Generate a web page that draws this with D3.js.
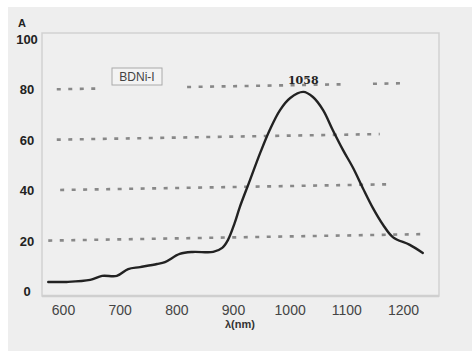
<!DOCTYPE html>
<html><head><meta charset="utf-8">
<script src="https://cdn.jsdelivr.net/npm/d3@7"></script>
<style>
html,body{margin:0;padding:0;background:#fff;}
svg{display:block;}
</style></head>
<body>
<script>
// ---- data ----
const wavelength = [574,607,648,669,695,715,736,766,780,806,829,865,881,891,903,912,930,948,965,983,1001,1024,1041,1059,1076,1094,1112,1129,1147,1165,1182,1212,1235];
const absorbance = [3.6,3.6,4.4,6.0,6.0,8.7,9.5,10.7,11.5,14.7,15.5,15.5,17.1,20.2,27.0,33.3,44.0,54.8,64.0,71.8,76.6,79.0,77.0,71.8,63.9,56.0,48.8,40.9,32.9,26.2,21.4,18.3,15.1];
const xTicks = [600,700,800,900,1000,1100,1200];
const yTicks = [0,20,40,60,80,100];
const gridValues = [20,40,60,80];
const gridSegments = [
  [[574,1242]],
  [[595,1177]],
  [[589,1159]],
  [[589,660],[819,1094],[1147,1198]]
];
const peakLabel = "1058";
const peakWavelength = 1024;
const peakValue = 79.0;
const seriesName = "BDNi-I";
const yTitle = "A";
const xTitle = "λ(nm)";

// ---- layout ----
const W = 475, H = 351;
const svg = d3.select("body").append("svg").attr("width", W).attr("height", H);
svg.append("rect").attr("x",8).attr("y",7).attr("width",464).attr("height",344).attr("fill","#eeeeee");

const x = d3.scaleLinear().domain([600,1200]).range([63,403]);
const y = d3.scaleLinear().domain([0,100]).range([291,39]);

// plot frame
svg.append("rect").attr("x",42).attr("y",33).attr("width",397).attr("height",263)
  .attr("fill","#efefef").attr("stroke","#d2d2d2").attr("stroke-width",1.5);
svg.append("line").attr("x1",42).attr("x2",439).attr("y1",296).attr("y2",296)
  .attr("stroke","#cfcfcf").attr("stroke-width",2.5);

// dotted tilted gridlines
const rise = 2.6;
gridValues.forEach((v,i)=>{
  gridSegments[i].forEach(([a,b])=>{
    const t = w => (w-574)/(1242-574)*rise;
    svg.append("line")
      .attr("x1",x(a)).attr("x2",x(b))
      .attr("y1",y(v+t(a))).attr("y2",y(v+t(b)))
      .attr("stroke","#666").attr("stroke-width",2.6)
      .attr("stroke-dasharray","4,7.5").attr("stroke-opacity",0.75);
  });
});

// legend box
svg.append("rect").attr("x",112).attr("y",68).attr("width",50).attr("height",17)
  .attr("fill","#f3f3f3").attr("stroke","#aaa").attr("stroke-width",1);
svg.append("text").attr("x",137).attr("y",81).attr("text-anchor","middle")
  .attr("font-family","Liberation Sans, Arial, sans-serif").attr("font-size",12)
  .attr("fill","#444").text(seriesName);

// curve
const pts = wavelength.map((w,i)=>[w,absorbance[i]]);
svg.append("path").datum(pts)
  .attr("d", d3.line().x(d=>x(d[0])).y(d=>y(d[1])).curve(d3.curveCatmullRom.alpha(0.5)))
  .attr("fill","none").attr("stroke","#222").attr("stroke-width",2.4)
  .attr("stroke-linejoin","round").attr("stroke-linecap","round");

// peak label
svg.append("text").attr("x",x(peakWavelength)).attr("y",y(peakValue)-8)
  .attr("text-anchor","middle")
  .attr("font-family","DejaVu Serif, Liberation Serif, serif").attr("font-weight","bold")
  .attr("font-size",11).attr("fill","#222").text(peakLabel);

// y tick labels
const yAxis = svg.append("g").attr("transform","translate(27,0)")
  .call(d3.axisLeft(y).tickValues(yTicks).tickSize(0).tickPadding(0));
yAxis.select(".domain").remove();
yAxis.selectAll("text").attr("text-anchor","middle").attr("dy","0.35em")
  .attr("font-family","Liberation Sans, Arial, sans-serif").attr("font-weight","bold")
  .attr("font-size",13).attr("fill","#222");

// x tick labels
const xAxis = svg.append("g").attr("transform","translate(0,305)")
  .call(d3.axisBottom(x).tickValues(xTicks).tickFormat(d3.format("d")).tickSize(0).tickPadding(0));
xAxis.select(".domain").remove();
xAxis.selectAll("text").attr("dy","0.71em")
  .attr("font-family","Liberation Sans, Arial, sans-serif")
  .attr("font-size",14).attr("fill","#444");

// axis titles
svg.append("text").attr("x",22).attr("y",27).attr("text-anchor","middle")
  .attr("font-family","Liberation Sans, Arial, sans-serif").attr("font-weight","bold")
  .attr("font-size",11).attr("fill","#222").text(yTitle);
svg.append("text").attr("x",225).attr("y",328)
  .attr("font-family","Liberation Sans, Arial, sans-serif").attr("font-weight","bold")
  .attr("font-size",11).attr("fill","#333").text(xTitle);
</script>
</body></html>
